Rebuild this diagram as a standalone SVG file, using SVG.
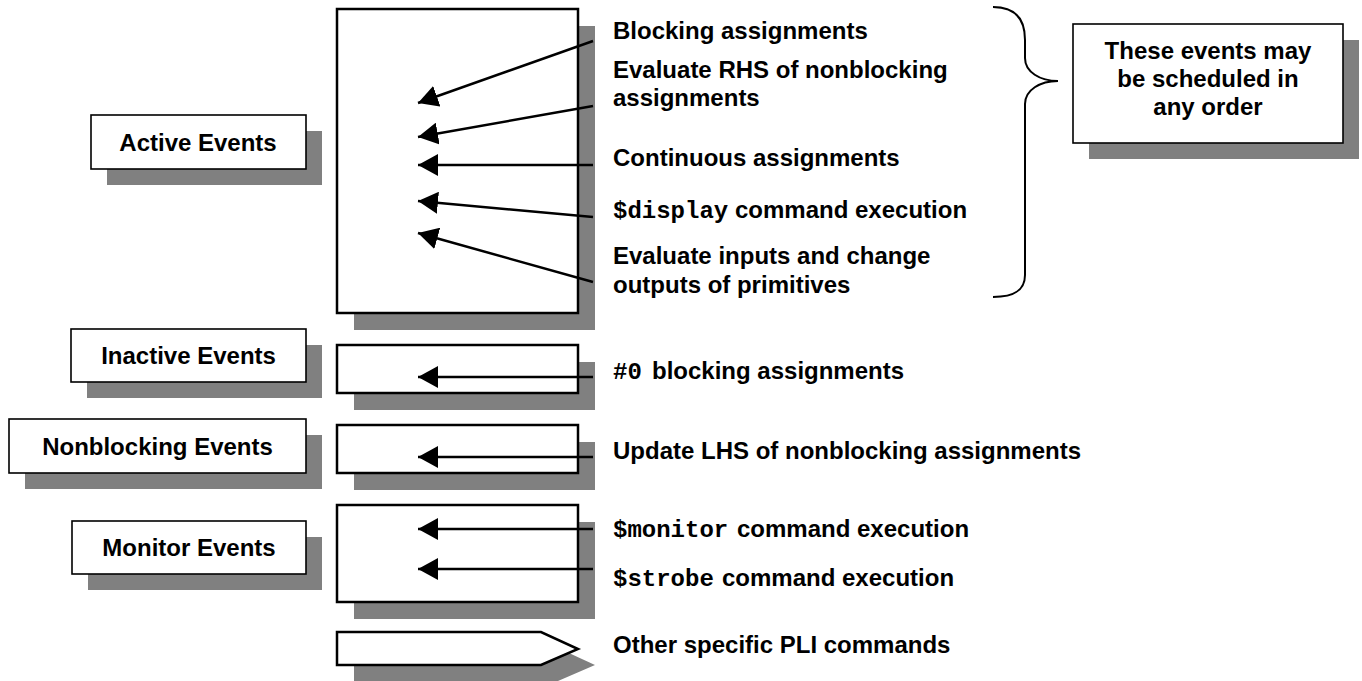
<svg xmlns="http://www.w3.org/2000/svg" width="1362" height="681" viewBox="0 0 1362 681">
<style>
.sh{fill:#808080;stroke:none}
.mb{fill:#fff;stroke:#000;stroke-width:2.5}
.lb{fill:#fff;stroke:#000;stroke-width:1.6}
.t{font-family:"Liberation Sans",Arial,sans-serif;font-weight:bold;font-size:24px;fill:#000}
.c{text-anchor:middle}
.m{font-family:"Liberation Mono","Courier New",monospace;font-weight:bold;font-size:24px;fill:#000}
.a{stroke:#000;stroke-width:2.5;fill:none;marker-end:url(#ah)}
</style>
<defs>
<marker id="ah" viewBox="0 0 20 22" refX="20" refY="11" markerWidth="20" markerHeight="22" markerUnits="userSpaceOnUse" orient="auto">
<path d="M0,0 L20,11 L0,22 z" fill="#000"/>
</marker>
</defs>
<rect width="1362" height="681" fill="#fff"/>

<g id="active-queue">
<rect class="sh" x="354" y="26" width="241" height="304"/>
<rect class="mb" x="337" y="9" width="241" height="304"/>
</g>
<g id="inactive-queue">
<rect class="sh" x="354" y="362" width="241" height="48"/>
<rect class="mb" x="337" y="345" width="241" height="48"/>
</g>
<g id="nonblocking-queue">
<rect class="sh" x="354" y="442" width="241" height="48"/>
<rect class="mb" x="337" y="425" width="241" height="48"/>
</g>
<g id="monitor-queue">
<rect class="sh" x="354" y="522" width="241" height="97"/>
<rect class="mb" x="337" y="505" width="241" height="97"/>
</g>
<g id="pli-queue">
<path class="sh" d="M354,648 L558,648 L595,665 L558,681 L354,681 Z"/>
<path class="mb" d="M337,632 L541,632 L578,649 L541,665 L337,665 Z" stroke-width="2"/>
</g>

<g id="label-active">
<rect class="sh" x="107" y="131" width="215" height="54"/>
<rect class="lb" x="91" y="115" width="215" height="54"/>
<text class="t c" x="198" y="151">Active Events</text>
</g>
<g id="label-inactive">
<rect class="sh" x="87" y="345" width="235" height="53"/>
<rect class="lb" x="71" y="329" width="235" height="53"/>
<text class="t c" x="188.5" y="364">Inactive Events</text>
</g>
<g id="label-nonblocking">
<rect class="sh" x="25" y="435" width="297" height="54"/>
<rect class="lb" x="9" y="419" width="297" height="54"/>
<text class="t c" x="157.5" y="455">Nonblocking Events</text>
</g>
<g id="label-monitor">
<rect class="sh" x="88" y="537" width="234" height="53"/>
<rect class="lb" x="72" y="521" width="234" height="53"/>
<text class="t c" x="189" y="556">Monitor Events</text>
</g>

<g id="note">
<rect class="sh" x="1089" y="40" width="270" height="119"/>
<rect class="lb" x="1073" y="24" width="270" height="119"/>
<text class="t c" x="1208" y="59">These events may</text>
<text class="t c" x="1208" y="87">be scheduled in</text>
<text class="t c" x="1208" y="115">any order</text>
</g>

<g id="brace">
<path d="M993,7 C1015,7 1025,18 1025,40 L1025,58 C1025,72 1040,81 1058,81 C1040,81 1025,90 1025,104 L1025,275 C1025,290 1015,297 993,297" fill="none" stroke="#000" stroke-width="2"/>
</g>

<g id="event-texts">
<text class="t" x="613" y="39">Blocking assignments</text>
<text class="t" x="613" y="78">Evaluate RHS of nonblocking</text>
<text class="t" x="613" y="106">assignments</text>
<text class="t" x="613" y="166">Continuous assignments</text>
<text class="m" x="613" y="218">$display</text>
<text class="t" x="735" y="218">command execution</text>
<text class="t" x="613" y="264">Evaluate inputs and change</text>
<text class="t" x="613" y="293">outputs of primitives</text>
<text class="m" x="613" y="379">#0</text>
<text class="t" x="652" y="379">blocking assignments</text>
<text class="t" x="613" y="459">Update LHS of nonblocking assignments</text>
<text class="m" x="613" y="537">$monitor</text>
<text class="t" x="737" y="537">command execution</text>
<text class="m" x="613" y="586">$strobe</text>
<text class="t" x="722" y="586">command execution</text>
<text class="t" x="613" y="653">Other specific PLI commands</text>
</g>

<g id="connectors">
<line class="a" x1="593" y1="41" x2="418" y2="103"/>
<line class="a" x1="593" y1="106" x2="418" y2="137"/>
<line class="a" x1="593" y1="165" x2="418" y2="165"/>
<line class="a" x1="593" y1="217" x2="418" y2="201"/>
<line class="a" x1="593" y1="282" x2="418" y2="233"/>
<line class="a" x1="593" y1="377" x2="418" y2="377"/>
<line class="a" x1="593" y1="457" x2="418" y2="457"/>
<line class="a" x1="593" y1="529" x2="418" y2="529"/>
<line class="a" x1="593" y1="569" x2="418" y2="569"/>
</g>
</svg>
